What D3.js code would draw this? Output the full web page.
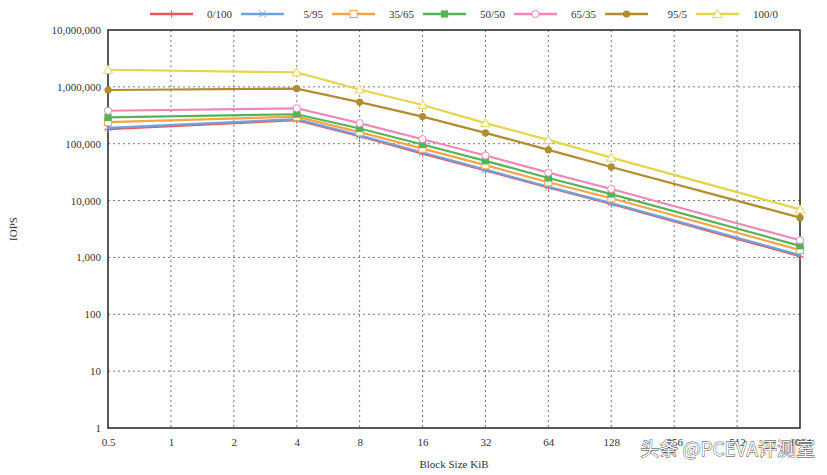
<!DOCTYPE html>
<meta charset="utf-8">
<html>
<script src="https://cdn.jsdelivr.net/npm/d3@7"></script>
<style>body{margin:0;background:#fff;font-family:"Liberation Serif",serif;}</style>
<body>
<script>
var blockSizes = [0.5, 1, 2, 4, 8, 16, 32, 64, 128, 256, 512, 1024];
var xPoints = [0.5, 4, 8, 16, 32, 64, 128, 1024];
var yTicks = [1, 10, 100, 1000, 10000, 100000, 1000000, 10000000];
var seriesNames = ['0/100', '5/95', '35/65', '50/50', '65/35', '95/5', '100/0'];
var colors = ['#e8585a', '#6fa3dc', '#f5a445', '#55b458', '#ee88b8', '#b08e2e', '#e6d44c'];
var v0_100 = [180000, 260000, 135000, 67000, 34000, 17000, 8700, 1050];
var v5_95 = [190000, 270000, 140000, 70000, 35000, 17500, 9000, 1100];
var v35_65 = [240000, 300000, 160000, 82000, 42000, 21000, 11000, 1350];
var v50_50 = [290000, 330000, 185000, 97000, 50000, 25000, 13000, 1600];
var v65_35 = [380000, 420000, 230000, 120000, 62000, 31000, 16000, 2000];
var v95_5 = [880000, 930000, 540000, 300000, 155000, 78000, 39000, 5000];
var v100_0 = [2000000, 1800000, 900000, 480000, 230000, 117000, 57000, 7000];
var allValues = [v0_100, v5_95, v35_65, v50_50, v65_35, v95_5, v100_0];

function draw() {
    var W = 827, H = 475, m = {l: 108, r: 27, t: 30, b: 47};
    var svg = d3.select('body').append('svg').attr('width', W).attr('height', H);
    var x = d3.scaleLog().base(2).domain([0.5, 1024]).range([m.l, W - m.r]);
    var y = d3.scaleLog().domain([1, 1e7]).range([H - m.b, m.t]);
    var g = svg.append('g');

    // grid
    g.selectAll('.vg').data(blockSizes.slice(1, -1)).enter().append('line')
        .attr('x1', x).attr('x2', x).attr('y1', m.t).attr('y2', H - m.b)
        .attr('stroke', '#777').attr('stroke-dasharray', '2,3');
    g.selectAll('.hg').data(yTicks.slice(1, -1)).enter().append('line')
        .attr('y1', y).attr('y2', y).attr('x1', m.l).attr('x2', W - m.r)
        .attr('stroke', '#777').attr('stroke-dasharray', '2,3');
    g.append('rect').attr('x', m.l).attr('y', m.t).attr('width', W - m.r - m.l).attr('height', H - m.b - m.t)
        .attr('fill', 'none').attr('stroke', '#222').attr('stroke-width', 1.5);

    var fmt = d3.format(',');
    var xa = svg.append('g').attr('transform', 'translate(0,' + (H - m.b) + ')')
        .call(d3.axisBottom(x).tickValues(blockSizes).tickFormat(d => d).tickSize(0).tickPadding(10));
    var ya = svg.append('g').attr('transform', 'translate(' + m.l + ',0)')
        .call(d3.axisLeft(y).tickValues(yTicks).tickFormat(fmt).tickSize(0).tickPadding(7));
    [xa, ya].forEach(a => {
        a.select('.domain').remove();
        a.selectAll('text').attr('font-family', 'Liberation Serif, serif').attr('font-size', 11).attr('fill', '#333');
    });
    svg.append('text').attr('x', (m.l + W - m.r) / 2).attr('y', 468).attr('text-anchor', 'middle')
        .attr('font-size', 11).attr('fill', '#333').text('Block Size KiB');
    svg.append('text').attr('transform', 'translate(17,' + ((m.t + H - m.b) / 2) + ') rotate(-90)')
        .attr('text-anchor', 'middle').attr('font-size', 11).attr('fill', '#333').text('IOPS');

    var line = d3.line().x((d, i) => x(xPoints[i])).y(d => y(d));
    function marker(sel, k, c) {
        var s = 3.6;
        if (k === 0) sel.append('path').attr('d', `M${-s},0H${s}M0,${-s}V${s}`).attr('stroke', c).attr('stroke-width', 1);
        else if (k === 1) sel.append('path').attr('d', `M${-s},${-s}L${s},${s}M${-s},${s}L${s},${-s}`).attr('stroke', c).attr('stroke-width', 1);
        else if (k === 2) sel.append('rect').attr('x', -s).attr('y', -s).attr('width', 2 * s).attr('height', 2 * s).attr('fill', '#fff').attr('stroke', c);
        else if (k === 3) sel.append('rect').attr('x', -s).attr('y', -s).attr('width', 2 * s).attr('height', 2 * s).attr('fill', c);
        else if (k === 4) sel.append('circle').attr('r', s).attr('fill', '#fff').attr('stroke', c);
        else if (k === 5) sel.append('circle').attr('r', s).attr('fill', c);
        else sel.append('path').attr('d', `M0,${-s - 1}L${s + 1},${s}H${-s - 1}Z`).attr('fill', '#fff').attr('stroke', c);
    }
    allValues.forEach((vals, k) => {
        var c = colors[k];
        g.append('path').attr('d', line(vals)).attr('fill', 'none').attr('stroke', c).attr('stroke-width', 2.2);
        vals.forEach((v, i) => marker(g.append('g').attr('transform', `translate(${x(xPoints[i])},${y(v)})`), k, c));
    });

    // legend
    var lg = svg.append('g');
    seriesNames.forEach((n, k) => {
        var lx = 150 + k * 91, c = colors[k];
        lg.append('line').attr('x1', lx).attr('x2', lx + 43).attr('y1', 14).attr('y2', 14).attr('stroke', c).attr('stroke-width', 2.5);
        marker(lg.append('g').attr('transform', `translate(${lx + 21.5},14)`), k, c);
        lg.append('text').attr('x', lx + 82).attr('y', 18).attr('text-anchor', 'end').attr('font-size', 11).attr('fill', '#333').text(n);
    });

    svg.append('text').attr('x', 815).attr('y', 456).attr('text-anchor', 'end')
        .attr('font-family', 'Noto Sans CJK SC').attr('font-size', 19).attr('fill', '#fff')
        .attr('stroke', '#333').attr('stroke-width', 0.8).attr('paint-order', 'stroke').text('头条 @PCEVA评测室');
}
draw();
</script>
</body>
</html>
